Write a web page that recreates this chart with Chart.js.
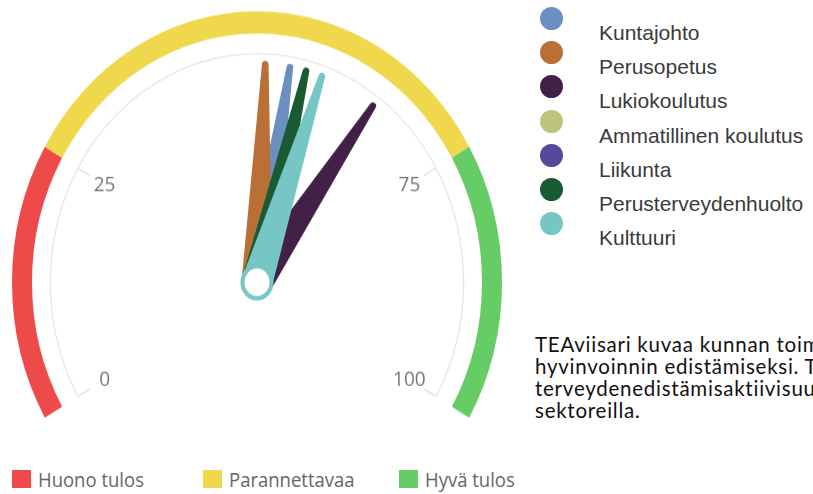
<!DOCTYPE html>
<html>
<head>
<meta charset="utf-8">
<script src="https://cdn.jsdelivr.net/npm/chart.js@4.4.1/dist/chart.umd.min.js"></script>
<style>
  html, body { margin: 0; padding: 0; background: #fff; }
  body { width: 813px; height: 494px; overflow: hidden; position: relative; }
  #gwrap { position: absolute; left: 12px; top: 11px; width: 490px; height: 368px;
           transform: scaleY(1.106); transform-origin: 0 0; }
  .dot { position: absolute; width: 23px; height: 23px; border-radius: 50%; }
  .sname { position: absolute; left: 599px; font-family: "Liberation Sans", Arial, sans-serif;
           font-size: 21px; color: #3a3a3a; line-height: 24px; white-space: nowrap; }
  .bl { position: absolute; top: 469px; font-family: "Open Sans", "Noto Sans", sans-serif;
        font-size: 18.5px; color: #666; white-space: nowrap; line-height: 20px;
        transform: scaleY(1.1); transform-origin: 0 50%; }
  .sq { position: absolute; top: 470px; width: 19px; height: 18px; }
  #para { position: absolute; left: 535px; top: 333px; font-family: Lato, sans-serif;
          font-size: 20.5px; letter-spacing: 0.75px; line-height: 22px; color: #111; white-space: nowrap; }
</style>
</head>
<body>
<div id="gwrap"><canvas id="gauge"></canvas></div>
<div id="legendRight"></div>
<div id="legendBottom"></div>
<div id="para">TEAviisari kuvaa kunnan toimintaa kuntalaisten terveyden ja<br>hyvinvoinnin edistämiseksi. TEAviisarin avulla seurataan<br>terveydenedistämisaktiivisuutta eri<br>sektoreilla.</div>
<script>
// ---- data ----
const seriesNames = ['Kuntajohto', 'Perusopetus', 'Lukiokoulutus', 'Ammatillinen koulutus', 'Liikunta', 'Perusterveydenhuolto', 'Kulttuuri'];
const seriesValues = [54, 51, 65, null, null, 56, 58];
const bandLabels = ['Huono tulos', 'Parannettavaa', 'Hyvä tulos'];
const bandLimits = [0, 25, 75, 100];
const tickValues = [0, 25, 75, 100];
const scaleMin = 0;
const scaleMax = 100;

// ---- styles ----
const seriesColors = ['#6b8fc1', '#b96f36', '#432047', '#bcc47e', '#57499a', '#1a5a32', '#76c6c5'];
const bandColors = ['#ef4a4a', '#efd84b', '#66cc66'];

const bandValues = bandLimits.slice(1).map((v, i) => v - bandLimits[i]);

const gaugePlugin = {
  id: 'gaugeNeedles',
  afterDatasetsDraw(chart) {
    const ctx = chart.ctx;
    const bandMeta = chart.getDatasetMeta(0);
    const first = bandMeta.data[0];
    const last = bandMeta.data[bandMeta.data.length - 1];
    const cx = first.x, cy = first.y;
    const a0 = first.startAngle, a1 = last.endAngle;
    const ring = chart.getDatasetMeta(2).data[0];
    const rAxis = ring.innerRadius;
    const toAngle = v => a0 + (v - scaleMin) / (scaleMax - scaleMin) * (a1 - a0);

    ctx.save();
    // ticks + labels
    ctx.strokeStyle = '#d9d9d9';
    ctx.lineWidth = 1.2;
    ctx.fillStyle = '#777';
    ctx.font = '19px "Open Sans", "Noto Sans", sans-serif';
    ctx.textAlign = 'center';
    ctx.textBaseline = 'middle';
    tickValues.forEach(v => {
      const a = toAngle(v);
      const c = Math.cos(a), s = Math.sin(a);
      ctx.beginPath();
      ctx.moveTo(cx + c * rAxis, cy + s * rAxis);
      ctx.lineTo(cx + c * (rAxis - 13), cy + s * (rAxis - 13));
      ctx.stroke();
      const rl = rAxis - 30;
      ctx.fillText(String(v), cx + c * rl, cy + s * rl);
    });

    // needles
    const len = rAxis - 9;
    const baseHW = 15.5, tipHW = 3.3;
    seriesValues.forEach((v, i) => {
      if (v === null || v === undefined) return;
      const a = toAngle(v);
      const c = Math.cos(a), s = Math.sin(a);
      const px = -s, py = c;
      const tx = cx + c * len, ty = cy + s * len;
      ctx.beginPath();
      ctx.moveTo(cx + px * baseHW, cy + py * baseHW);
      ctx.lineTo(tx + px * tipHW, ty + py * tipHW);
      ctx.arc(tx, ty, tipHW, a + Math.PI / 2, a - Math.PI / 2, true);
      ctx.lineTo(cx - px * baseHW, cy - py * baseHW);
      ctx.closePath();
      ctx.fillStyle = seriesColors[i];
      ctx.fill();
    });

    // hub
    ctx.beginPath();
    ctx.arc(cx, cy, 14.5, 0, Math.PI * 2);
    ctx.fillStyle = '#fff';
    ctx.fill();
    ctx.lineWidth = 4;
    ctx.strokeStyle = seriesColors[seriesColors.length - 1];
    ctx.stroke();
    ctx.restore();
  }
};

new Chart(document.getElementById('gauge'), {
  type: 'doughnut',
  data: {
    labels: bandLabels,
    datasets: [
      { data: bandValues, backgroundColor: bandColors, borderWidth: 0, weight: 20 },
      { data: [scaleMax - scaleMin], backgroundColor: ['rgba(0,0,0,0)'], borderWidth: 0, weight: 17.7 },
      { data: [scaleMax - scaleMin], backgroundColor: ['#e6e6e6'], borderWidth: 0, weight: 1.3 }
    ]
  },
  options: {
    responsive: true,
    maintainAspectRatio: false,
    animation: false,
    rotation: -120,
    circumference: 240,
    cutout: '84.08%',
    layout: { padding: 0 },
    plugins: { legend: { display: false }, tooltip: { enabled: false } },
    events: []
  },
  plugins: [gaugePlugin]
});

// right legend
const lr = document.getElementById('legendRight');
seriesNames.forEach((name, i) => {
  const d = document.createElement('div');
  d.className = 'dot';
  d.style.left = '540px';
  d.style.top = (7 + i * 34.2) + 'px';
  d.style.background = seriesColors[i];
  lr.appendChild(d);
  const t = document.createElement('div');
  t.className = 'sname';
  t.style.top = (21 + i * 34.2) + 'px';
  t.textContent = name;
  lr.appendChild(t);
});

// bottom legend
const lb = document.getElementById('legendBottom');
const sqX = [12, 203, 399];
bandLabels.forEach((name, i) => {
  const s = document.createElement('div');
  s.className = 'sq';
  s.style.left = sqX[i] + 'px';
  s.style.background = bandColors[i];
  lb.appendChild(s);
  const t = document.createElement('div');
  t.className = 'bl';
  t.style.left = (sqX[i] + 26) + 'px';
  t.textContent = name;
  lb.appendChild(t);
});
</script>
</body>
</html>
